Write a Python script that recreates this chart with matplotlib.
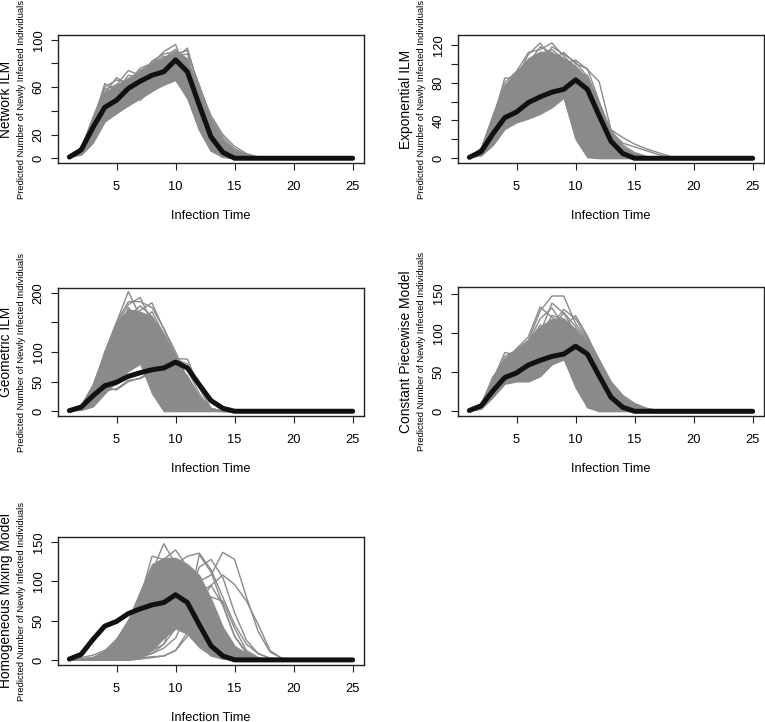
from __future__ import annotations

import matplotlib

matplotlib.use("Agg")

from matplotlib import pyplot as plt

plt.rcParams["font.family"] = ["Liberation Sans", "DejaVu Sans"]

TIMES = list(range(1, 26))
OBSERVED = [1, 7, 26, 43, 49, 59, 65, 70, 73, 83, 73, 45, 18, 5, 0, 0, 0, 0, 0, 0, 0, 0, 0, 0, 0]

# dense core of the simulated epidemics (lower / upper edge), read per time point
NETWORK_LOW = [1, 3, 13, 31, 38, 45, 51, 57, 62, 66, 50, 24, 7, 1, 0, 0, 0, 0, 0, 0, 0, 0, 0, 0, 0]
NETWORK_HIGH = [2, 10, 36, 56, 62, 68, 74, 79, 85, 90, 84, 56, 32, 16, 7, 3, 1, 0, 0, 0, 0, 0, 0, 0, 0]
NETWORK_RUNS = [
    [1, 6, 30, 63, 57, 70, 68, 76, 84, 92, 78, 50, 22, 7, 1, 0, 0, 0, 0, 0, 0, 0, 0, 0, 0],
    [2, 8, 33, 55, 68, 62, 74, 80, 90, 96, 70, 40, 14, 4, 0, 0, 0, 0, 0, 0, 0, 0, 0, 0, 0],
    [1, 5, 24, 48, 53, 66, 72, 79, 86, 84, 93, 58, 30, 12, 4, 1, 0, 0, 0, 0, 0, 0, 0, 0, 0],
    [1, 4, 15, 34, 40, 46, 54, 60, 62, 70, 66, 46, 28, 14, 5, 1, 0, 0, 0, 0, 0, 0, 0, 0, 0],
    [2, 7, 26, 44, 48, 58, 62, 72, 80, 86, 88, 62, 34, 18, 8, 3, 0, 0, 0, 0, 0, 0, 0, 0, 0],
    [1, 5, 22, 40, 44, 50, 49, 58, 66, 75, 62, 26, 7, 1, 0, 0, 0, 0, 0, 0, 0, 0, 0, 0, 0],
    [1, 6, 31, 58, 62, 74, 70, 82, 88, 90, 84, 56, 32, 15, 6, 2, 0, 0, 0, 0, 0, 0, 0, 0, 0],
    [1, 4, 19, 36, 42, 48, 56, 64, 72, 68, 60, 32, 10, 2, 0, 0, 0, 0, 0, 0, 0, 0, 0, 0, 0],
    [1, 5, 28, 52, 58, 64, 72, 78, 80, 85, 80, 52, 30, 14, 6, 2, 0, 0, 0, 0, 0, 0, 0, 0, 0],
    [2, 7, 25, 42, 50, 56, 64, 70, 76, 80, 74, 44, 20, 8, 2, 0, 0, 0, 0, 0, 0, 0, 0, 0, 0],
    [1, 3, 14, 32, 38, 44, 50, 56, 64, 66, 52, 24, 6, 1, 0, 0, 0, 0, 0, 0, 0, 0, 0, 0, 0],
    [1, 5, 27, 50, 55, 62, 66, 74, 78, 88, 91, 60, 36, 20, 10, 4, 1, 0, 0, 0, 0, 0, 0, 0, 0],
    [2, 8, 34, 60, 66, 64, 76, 80, 86, 82, 76, 50, 26, 10, 3, 0, 0, 0, 0, 0, 0, 0, 0, 0, 0],
]

EXPONENTIAL_LOW = [1, 3, 14, 31, 38, 42, 47, 54, 64, 20, 1, 0, 0, 0, 0, 0, 0, 0, 0, 0, 0, 0, 0, 0, 0]
EXPONENTIAL_HIGH = [2, 12, 46, 78, 92, 106, 113, 112, 106, 98, 84, 58, 26, 12, 5, 2, 0, 0, 0, 0, 0, 0, 0, 0, 0]
EXPONENTIAL_RUNS = [
    [1, 8, 40, 85, 85, 110, 122, 104, 112, 100, 95, 60, 28, 14, 6, 2, 0, 0, 0, 0, 0, 0, 0, 0, 0],
    [2, 10, 45, 80, 92, 112, 115, 122, 108, 96, 80, 50, 20, 8, 3, 0, 0, 0, 0, 0, 0, 0, 0, 0, 0],
    [1, 6, 30, 60, 82, 100, 118, 112, 100, 104, 94, 81, 30, 12, 4, 1, 0, 0, 0, 0, 0, 0, 0, 0, 0],
    [1, 4, 18, 40, 45, 48, 58, 66, 84, 60, 20, 3, 0, 0, 0, 0, 0, 0, 0, 0, 0, 0, 0, 0, 0],
    [1, 3, 14, 32, 38, 42, 47, 55, 65, 22, 2, 0, 0, 0, 0, 0, 0, 0, 0, 0, 0, 0, 0, 0, 0],
    [1, 5, 25, 52, 60, 70, 78, 84, 88, 90, 88, 58, 28, 16, 12, 8, 4, 0, 0, 0, 0, 0, 0, 0, 0],
    [1, 6, 26, 50, 62, 72, 76, 78, 72, 85, 80, 56, 30, 22, 15, 10, 6, 2, 0, 0, 0, 0, 0, 0, 0],
    [2, 7, 34, 68, 80, 95, 110, 115, 105, 70, 20, 2, 0, 0, 0, 0, 0, 0, 0, 0, 0, 0, 0, 0, 0],
    [1, 5, 28, 55, 72, 90, 105, 108, 96, 90, 75, 45, 18, 6, 2, 0, 0, 0, 0, 0, 0, 0, 0, 0, 0],
    [1, 4, 20, 42, 48, 60, 72, 80, 90, 78, 40, 8, 0, 0, 0, 0, 0, 0, 0, 0, 0, 0, 0, 0, 0],
    [2, 9, 40, 75, 90, 104, 100, 118, 110, 102, 86, 55, 24, 10, 4, 1, 0, 0, 0, 0, 0, 0, 0, 0, 0],
    [1, 4, 16, 36, 42, 46, 52, 62, 70, 40, 6, 0, 0, 0, 0, 0, 0, 0, 0, 0, 0, 0, 0, 0, 0],
    [1, 7, 32, 62, 76, 82, 96, 102, 104, 95, 72, 40, 14, 4, 1, 0, 0, 0, 0, 0, 0, 0, 0, 0, 0],
]

GEOMETRIC_LOW = [1, 2, 8, 30, 50, 68, 80, 30, 0, 0, 0, 0, 0, 0, 0, 0, 0, 0, 0, 0, 0, 0, 0, 0, 0]
GEOMETRIC_HIGH = [2, 10, 44, 100, 150, 172, 168, 160, 130, 92, 52, 22, 4, 0, 0, 0, 0, 0, 0, 0, 0, 0, 0, 0, 0]
GEOMETRIC_RUNS = [
    [1, 5, 35, 100, 150, 202, 160, 140, 90, 30, 5, 0, 0, 0, 0, 0, 0, 0, 0, 0, 0, 0, 0, 0, 0],
    [2, 8, 40, 95, 145, 180, 192, 150, 100, 60, 20, 2, 0, 0, 0, 0, 0, 0, 0, 0, 0, 0, 0, 0, 0],
    [1, 6, 30, 80, 130, 160, 170, 183, 138, 95, 50, 20, 3, 0, 0, 0, 0, 0, 0, 0, 0, 0, 0, 0, 0],
    [1, 5, 25, 45, 50, 58, 66, 72, 78, 88, 80, 40, 5, 0, 0, 0, 0, 0, 0, 0, 0, 0, 0, 0, 0],
    [1, 4, 20, 40, 36, 50, 56, 68, 80, 90, 70, 30, 2, 0, 0, 0, 0, 0, 0, 0, 0, 0, 0, 0, 0],
    [1, 4, 18, 38, 45, 60, 62, 70, 74, 89, 88, 40, 4, 0, 0, 0, 0, 0, 0, 0, 0, 0, 0, 0, 0],
    [2, 9, 44, 98, 150, 185, 185, 175, 140, 100, 55, 25, 5, 0, 0, 0, 0, 0, 0, 0, 0, 0, 0, 0, 0],
    [1, 3, 12, 35, 60, 110, 140, 100, 40, 0, 0, 0, 0, 0, 0, 0, 0, 0, 0, 0, 0, 0, 0, 0, 0],
    [1, 4, 22, 70, 120, 175, 150, 120, 70, 20, 2, 0, 0, 0, 0, 0, 0, 0, 0, 0, 0, 0, 0, 0, 0],
    [1, 5, 26, 75, 118, 160, 178, 160, 120, 80, 40, 12, 1, 0, 0, 0, 0, 0, 0, 0, 0, 0, 0, 0, 0],
    [1, 3, 15, 50, 90, 130, 150, 168, 130, 90, 55, 22, 3, 0, 0, 0, 0, 0, 0, 0, 0, 0, 0, 0, 0],
    [1, 4, 18, 45, 80, 120, 135, 120, 60, 15, 1, 0, 0, 0, 0, 0, 0, 0, 0, 0, 0, 0, 0, 0, 0],
    [2, 7, 36, 90, 142, 170, 165, 140, 95, 50, 18, 4, 0, 0, 0, 0, 0, 0, 0, 0, 0, 0, 0, 0, 0],
    [1, 4, 16, 34, 38, 52, 55, 66, 72, 80, 60, 25, 3, 0, 0, 0, 0, 0, 0, 0, 0, 0, 0, 0, 0],
]

PIECEWISE_LOW = [1, 3, 18, 35, 38, 38, 45, 60, 66, 30, 5, 0, 0, 0, 0, 0, 0, 0, 0, 0, 0, 0, 0, 0, 0]
PIECEWISE_HIGH = [2, 10, 45, 68, 80, 92, 108, 118, 118, 105, 88, 62, 36, 20, 9, 3, 1, 0, 0, 0, 0, 0, 0, 0, 0]
PIECEWISE_RUNS = [
    [1, 6, 40, 75, 72, 90, 128, 147, 147, 112, 92, 60, 30, 12, 4, 1, 0, 0, 0, 0, 0, 0, 0, 0, 0],
    [2, 8, 44, 62, 80, 95, 133, 120, 110, 102, 85, 55, 28, 14, 6, 2, 0, 0, 0, 0, 0, 0, 0, 0, 0],
    [1, 5, 30, 55, 75, 90, 100, 138, 125, 100, 80, 50, 25, 10, 3, 0, 0, 0, 0, 0, 0, 0, 0, 0, 0],
    [1, 4, 22, 42, 40, 38, 44, 60, 68, 40, 5, 0, 0, 0, 0, 0, 0, 0, 0, 0, 0, 0, 0, 0, 0],
    [1, 5, 28, 48, 52, 62, 85, 110, 130, 118, 94, 66, 38, 20, 9, 3, 0, 0, 0, 0, 0, 0, 0, 0, 0],
    [1, 3, 20, 38, 42, 50, 58, 70, 75, 95, 88, 62, 36, 20, 10, 4, 1, 0, 0, 0, 0, 0, 0, 0, 0],
    [2, 7, 35, 60, 68, 80, 105, 100, 115, 70, 20, 2, 0, 0, 0, 0, 0, 0, 0, 0, 0, 0, 0, 0, 0],
    [1, 6, 36, 70, 78, 88, 118, 132, 108, 122, 96, 64, 36, 18, 8, 2, 0, 0, 0, 0, 0, 0, 0, 0, 0],
    [1, 4, 26, 50, 60, 72, 96, 122, 118, 100, 70, 40, 20, 8, 2, 0, 0, 0, 0, 0, 0, 0, 0, 0, 0],
    [2, 9, 42, 66, 74, 88, 110, 104, 126, 108, 90, 60, 32, 16, 6, 2, 0, 0, 0, 0, 0, 0, 0, 0, 0],
    [1, 3, 18, 36, 40, 40, 48, 62, 70, 55, 20, 3, 0, 0, 0, 0, 0, 0, 0, 0, 0, 0, 0, 0, 0],
    [1, 5, 30, 52, 66, 80, 92, 112, 100, 90, 86, 58, 34, 18, 8, 3, 1, 0, 0, 0, 0, 0, 0, 0, 0],
]

HOMOGENEOUS_LOW = [0, 0, 0, 0, 0, 0, 2, 12, 28, 40, 33, 16, 6, 2, 0, 0, 0, 0, 0, 0, 0, 0, 0, 0, 0]
HOMOGENEOUS_HIGH = [1, 2, 4, 12, 28, 52, 88, 122, 130, 130, 122, 108, 78, 42, 18, 8, 3, 1, 0, 0, 0, 0, 0, 0, 0]
HOMOGENEOUS_RUNS = [
    [0, 1, 2, 5, 12, 30, 62, 112, 148, 122, 92, 55, 25, 10, 3, 1, 0, 0, 0, 0, 0, 0, 0, 0, 0],
    [0, 1, 3, 8, 20, 45, 78, 132, 128, 140, 118, 92, 58, 30, 12, 4, 1, 0, 0, 0, 0, 0, 0, 0, 0],
    [0, 0, 1, 2, 5, 12, 30, 70, 100, 122, 132, 136, 115, 80, 45, 20, 8, 2, 0, 0, 0, 0, 0, 0, 0],
    [0, 0, 1, 2, 4, 8, 15, 30, 50, 70, 90, 100, 108, 137, 128, 80, 36, 10, 2, 0, 0, 0, 0, 0, 0],
    [0, 0, 0, 1, 2, 4, 8, 15, 28, 45, 65, 85, 95, 108, 96, 75, 45, 12, 2, 0, 0, 0, 0, 0, 0],
    [0, 0, 0, 0, 1, 2, 3, 4, 5, 12, 30, 55, 80, 75, 40, 12, 3, 0, 0, 0, 0, 0, 0, 0, 0],
    [0, 0, 1, 2, 3, 5, 8, 12, 20, 40, 75, 118, 128, 105, 60, 25, 8, 2, 0, 0, 0, 0, 0, 0, 0],
    [1, 3, 6, 12, 25, 45, 70, 95, 110, 112, 95, 60, 30, 12, 4, 1, 0, 0, 0, 0, 0, 0, 0, 0, 0],
    [0, 0, 0, 1, 1, 2, 4, 8, 15, 28, 60, 134, 112, 70, 30, 10, 2, 0, 0, 0, 0, 0, 0, 0, 0],
    [0, 0, 0, 0, 1, 2, 4, 8, 20, 60, 45, 20, 5, 1, 0, 0, 0, 0, 0, 0, 0, 0, 0, 0, 0],
    [0, 0, 0, 1, 2, 4, 8, 18, 40, 70, 50, 25, 8, 2, 0, 0, 0, 0, 0, 0, 0, 0, 0, 0, 0],
    [0, 0, 0, 0, 0, 0, 1, 3, 5, 12, 35, 70, 95, 70, 30, 8, 2, 0, 0, 0, 0, 0, 0, 0, 0],
    [0, 1, 2, 4, 10, 25, 55, 90, 115, 100, 70, 40, 15, 4, 1, 0, 0, 0, 0, 0, 0, 0, 0, 0, 0],
    [0, 0, 1, 3, 8, 20, 45, 80, 110, 125, 110, 80, 45, 18, 6, 2, 0, 0, 0, 0, 0, 0, 0, 0, 0],
]

MODEL_NAMES = ["Network ILM", "Exponential ILM", "Geometric ILM", "Constant Piecewise Model", "Homogeneous Mixing Model"]
Y_LABEL = "Predicted Number of Newly Infected Individuals"
X_LABEL = "Infection Time"

GRAY = "#8a8a8a"
FIG_W, FIG_H = 765, 722
PX = 0.72  # points per pixel at dpi 100


def panel_specs():
    # (left px, top px, height px, ylim, yticks, ytick labels)
    return [
        (58, 35, 128, (-4, 104), [0, 20, 40, 60, 80, 100], ["0", "20", "", "60", "", "100"]),
        (458, 35, 128, (-5, 130.5), [0, 20, 40, 60, 80, 100, 120], ["0", "", "40", "", "80", "", "120"]),
        (58, 288, 128, (-8, 208), [0, 50, 100, 150, 200], ["0", "50", "100", "", "200"]),
        (458, 287, 129, (-6, 158.5), [0, 50, 100, 150], ["0", "50", "100", "150"]),
        (58, 537, 128, (-6.5, 156.5), [0, 50, 100, 150], ["0", "50", "100", "150"]),
    ]


def draw_panel(fig, spec, name, low, high, runs):
    left, top, height, ylim, yticks, ylabels = spec
    ax = fig.add_axes([left / FIG_W, 1 - (top + height) / FIG_H, 306 / FIG_W, height / FIG_H])

    for series in [low, high, *runs]:
        assert len(series) == len(TIMES)
    ax.fill_between(TIMES, low, high, color=GRAY, linewidth=0.8, edgecolor=GRAY)
    for run in runs:
        ax.plot(TIMES, run, color=GRAY, linewidth=1.0)
    ax.plot(TIMES, OBSERVED, color="#111111", linewidth=3.6, solid_capstyle="round")

    ax.set_xlim(0.04, 25.96)
    ax.set_ylim(*ylim)
    ax.set_xticks([5, 10, 15, 20, 25])
    ax.set_yticks(yticks)
    ax.set_yticklabels(ylabels, rotation=90, va="center")
    ax.tick_params(axis="both", length=5, width=0.8, labelsize=9.3, color="#222222")
    ax.tick_params(axis="x", pad=8)
    ax.tick_params(axis="y", pad=4.5)
    for spine in ax.spines.values():
        spine.set_linewidth(1.0)
        spine.set_color("#222222")

    ax.annotate(X_LABEL, xy=(0.5, 0), xycoords="axes fraction", xytext=(0, -53 * PX),
                textcoords="offset points", ha="center", va="center", fontsize=9.2)
    ax.annotate(name, xy=(0, 0.5), xycoords="axes fraction", xytext=(-52 * PX, 0),
                textcoords="offset points", ha="center", va="center", rotation=90, fontsize=9.9)
    ax.annotate(Y_LABEL, xy=(0, 0.5), xycoords="axes fraction", xytext=(-36 * PX, 0),
                textcoords="offset points", ha="center", va="center", rotation=90, fontsize=6.8)


def main() -> None:
    fig = plt.figure(figsize=(FIG_W / 100, FIG_H / 100), dpi=100)
    data = [
        (NETWORK_LOW, NETWORK_HIGH, NETWORK_RUNS),
        (EXPONENTIAL_LOW, EXPONENTIAL_HIGH, EXPONENTIAL_RUNS),
        (GEOMETRIC_LOW, GEOMETRIC_HIGH, GEOMETRIC_RUNS),
        (PIECEWISE_LOW, PIECEWISE_HIGH, PIECEWISE_RUNS),
        (HOMOGENEOUS_LOW, HOMOGENEOUS_HIGH, HOMOGENEOUS_RUNS),
    ]
    for spec, name, (low, high, runs) in zip(panel_specs(), MODEL_NAMES, data, strict=True):
        draw_panel(fig, spec, name, low, high, runs)
    fig.savefig("out.png", dpi=100)
    plt.close(fig)


if __name__ == "__main__":
    main()
